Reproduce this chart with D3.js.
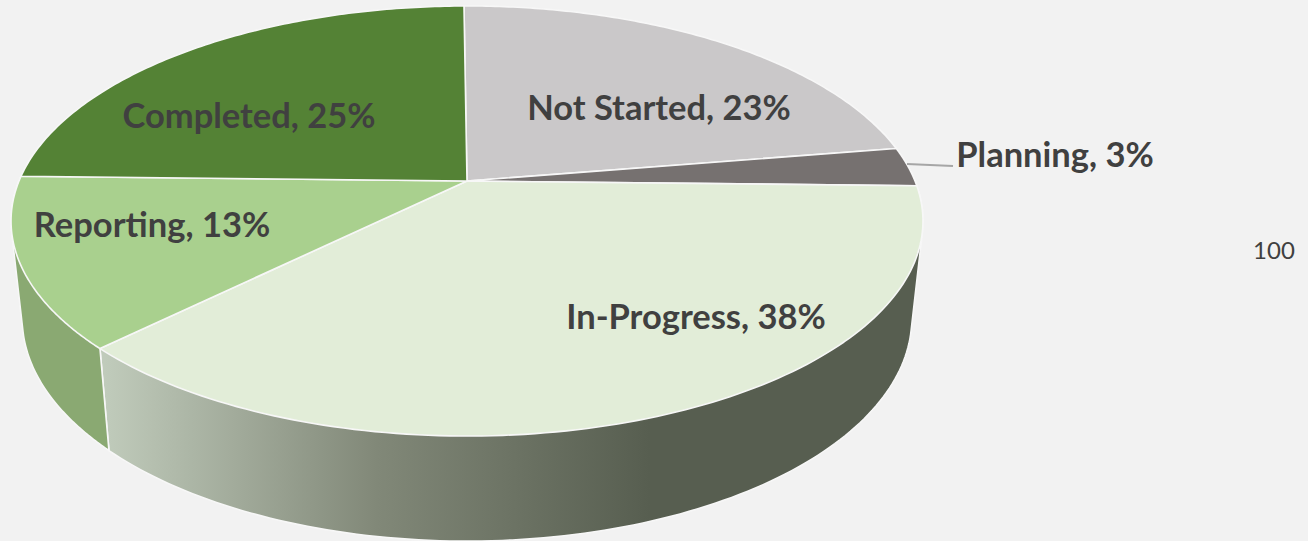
<!DOCTYPE html>
<html>
<head>
<meta charset="utf-8">
<script src="https://cdnjs.cloudflare.com/ajax/libs/d3/7.9.0/d3.min.js"></script>
<style>
  html, body { margin: 0; padding: 0; background: #f2f2f2; }
  svg { display: block; }
  text { font-family: Lato, "Open Sans", sans-serif; fill: #404040; }
</style>
</head>
<body>
<script>
// Project status shares, clockwise from twelve o'clock.
const categories = ["Not Started", "Planning", "In-Progress", "Reporting", "Completed"];
const shares = [23, 3, 38, 13, 25];
const topColors = ["#cac8c9", "#767170", "#e2edd8", "#a9d08e", "#548235"];
const wallColors = [["#8f8d8d", "#8f8d8d"], ["#535050", "#535050"], ["#c0cbbb", "#575e50"], ["#8aa972", "#8aa972"], ["#3b5b25", "#3b5b25"]];
const labelAnchors = [[659, 120], [1055, 167], [696, 329], [152, 237], [249, 128]];
const note = "100";

const width = 1308, height = 541;
const svg = d3.select("body").append("svg").attr("width", width).attr("height", height);

// Tilted disc: a circle seen in perspective, with far edge nearer the centre line.
const tilt = 0.186;
const upperPlane = { cx: 467, cy: 181, a: 448, b: 207.6 };
const lowerPlane = { cx: 467, cy: 277, a: 437, b: 215 };
const project = (plane, theta) => {
  const X = Math.sin(theta), Y = Math.cos(theta), w = 1 + tilt * Y;
  return [plane.cx + plane.a * X / w, plane.cy - plane.b * Y / w];
};
const arcPoints = (plane, start, end) =>
  d3.range(0, 121).map(i => project(plane, start + (end - start) * i / 120));

const pie = d3.pie().sort(null).startAngle(-0.008).endAngle(2 * Math.PI - 0.008);
const slices = pie(shares).map((d, i) => ({ ...d, name: categories[i], index: i }));
const line = d3.line();

// Horizontal shading on the front wall
const defs = svg.append("defs");
const wallGrad = defs.append("linearGradient").attr("id", "wall-2")
  .attr("gradientUnits", "userSpaceOnUse").attr("x1", 105).attr("x2", 650).attr("y1", 0).attr("y2", 0);
wallGrad.append("stop").attr("offset", 0).attr("stop-color", wallColors[2][0]);
wallGrad.append("stop").attr("offset", 0.5).attr("stop-color", "#818878");
wallGrad.append("stop").attr("offset", 1).attr("stop-color", wallColors[2][1]);

// Each wall is the convex hull of its rim arcs, which gives the straight
// tangent edges between the upper and lower rims; the top face covers the rest.
const wallRange = [Math.PI * 0.42, Math.PI * 1.58];
svg.append("g").selectAll("path")
  .data(slices.filter(d => d.endAngle > wallRange[0] && d.startAngle < wallRange[1]))
  .join("path")
  .attr("d", d => {
    const s = Math.max(d.startAngle, wallRange[0]), e = Math.min(d.endAngle, wallRange[1]);
    return line(d3.polygonHull([...arcPoints(upperPlane, s, e), ...arcPoints(lowerPlane, s, e)])) + "Z";
  })
  .attr("fill", d => d.index === 2 ? "url(#wall-2)" : wallColors[d.index][0])
  .attr("stroke", "#f7f7f7").attr("stroke-width", 1.6).attr("stroke-linejoin", "round");

// Top face
svg.append("g").selectAll("path")
  .data(slices)
  .join("path")
  .attr("d", d => line([[upperPlane.cx, upperPlane.cy], ...arcPoints(upperPlane, d.startAngle, d.endAngle)]) + "Z")
  .attr("fill", d => topColors[d.index])
  .attr("stroke", "#f7f7f7").attr("stroke-width", 1.6).attr("stroke-linejoin", "round");

// Leader from the thin slice to its label
svg.append("path")
  .attr("d", line([[907, 164], [953, 166]]))
  .attr("fill", "none").attr("stroke", "#a6a6a6").attr("stroke-width", 1.8);

// Slice labels
svg.append("g").selectAll("text")
  .data(slices)
  .join("text")
  .attr("x", d => labelAnchors[d.index][0])
  .attr("y", d => labelAnchors[d.index][1])
  .attr("text-anchor", "middle")
  .attr("font-size", 34.5)
  .attr("font-weight", 700)
  .text(d => `${d.name}, ${d.data}%`);

svg.append("text").attr("x", 1274).attr("y", 259).attr("text-anchor", "middle")
  .attr("font-size", 24).text(note);
</script>
</body>
</html>
